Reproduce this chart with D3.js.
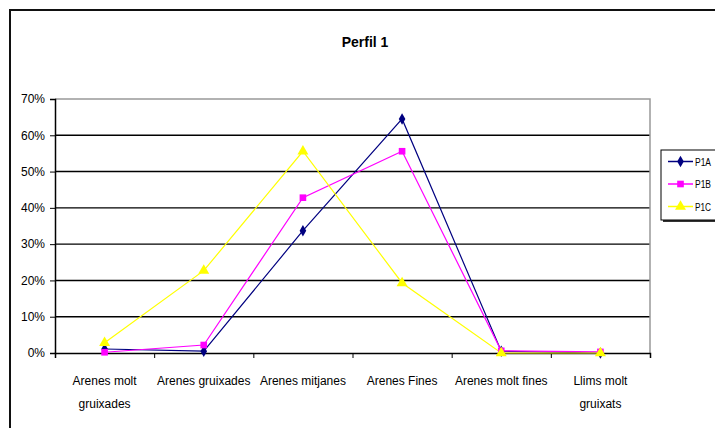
<!DOCTYPE html>
<html lang="en">
<head>
  <meta charset="UTF-8">
  <title>Perfil 1</title>
  <script src="https://d3js.org/d3.v7.min.js"></script>
  <style>
    body { margin: 0; background: #fff; }
    text { font-family: "Liberation Sans", Arial, sans-serif; fill: #000; }
  </style>
</head>
<body>
  <svg id="svg1" width="715" height="428"></svg>
  <script>
    // data (fractions)
    const categories = [["Arenes molt", "gruixades"], ["Arenes gruixades"], ["Arenes mitjanes"],
                        ["Arenes Fines"], ["Arenes molt fines"], ["Llims molt", "gruixats"]];
    const seriesNames = ["P1A", "P1B", "P1C"];
    const p1a = [0.011, 0.005, 0.337, 0.645, 0.005, 0.0];
    const p1b = [0.002, 0.022, 0.428, 0.556, 0.006, 0.003];
    const p1c = [0.028, 0.227, 0.556, 0.193, 0.0, 0.0];
    const yTicks = [0, 0.1, 0.2, 0.3, 0.4, 0.5, 0.6, 0.7];

    const colors = ["#000080", "#ff00ff", "#ffff00"];
    const symbols = [d3.symbolDiamond, d3.symbolSquare, d3.symbolTriangle];
    const symSizes = [38, 44, 52];
    const allSeries = [p1a, p1b, p1c];

    let svg1 = d3.select("svg#svg1");
    let margin = {top: 99, right: 65, bottom: 75, left: 55};
    let chartWidth = 650 - margin.left;
    let chartHeight = 353 - margin.top;

    // outer chart border
    svg1.append("rect")
        .attr("x", 10).attr("y", 10)
        .attr("width", 720).attr("height", 430)
        .attr("fill", "none")
        .attr("stroke", "#111")
        .attr("stroke-width", 2);

    svg1.append("text")
        .attr("x", 365).attr("y", 47)
        .attr("text-anchor", "middle")
        .style("font-size", "14px")
        .style("font-weight", "bold")
        .text("Perfil 1");

    let chartArea = svg1.append("g")
                        .attr("transform", `translate(${margin.left},${margin.top})`);

    const xScale = d3.scaleBand().domain(d3.range(categories.length)).range([0, chartWidth]);
    const yScale = d3.scaleLinear().domain([0, 0.7]).range([chartHeight, 0]);

    // horizontal gridlines
    chartArea.selectAll("line.grid")
        .data(yTicks.slice(1, -1))
        .join("line")
        .attr("class", "grid")
        .attr("x1", 0).attr("x2", chartWidth)
        .attr("y1", d => yScale(d)).attr("y2", d => yScale(d))
        .attr("stroke", "#000")
        .attr("stroke-width", 1.4);

    // plot area border top/right (grey)
    chartArea.append("path")
        .attr("d", `M0,${yScale(0.7)}H${chartWidth}V${chartHeight}`)
        .attr("fill", "none")
        .attr("stroke", "#999")
        .attr("stroke-width", 1.5);

    // y axis
    let leftAxis = d3.axisLeft(yScale)
                     .tickValues(yTicks)
                     .tickSize(5)
                     .tickPadding(5)
                     .tickFormat(d3.format(".0%"));
    let yAxisG = chartArea.append("g").call(leftAxis);
    yAxisG.selectAll("text").style("font-size", "12px").style("font-family", "'Liberation Sans', Arial, sans-serif");

    // x axis, ticks between categories
    let xTickScale = d3.scaleLinear().domain([0, categories.length]).range([0, chartWidth]);
    let bottomAxis = d3.axisBottom(xTickScale)
                       .tickValues(d3.range(categories.length + 1))
                       .tickSize(5)
                       .tickFormat("");
    chartArea.append("g")
        .attr("transform", `translate(0,${chartHeight})`)
        .call(bottomAxis);

    chartArea.selectAll(".domain").attr("stroke", "#000").attr("stroke-width", 1.5);
    chartArea.selectAll(".tick line").attr("stroke", "#000");

    // category labels
    categories.forEach((lines, i) => {
      let t = chartArea.append("text")
          .attr("x", xScale(i) + xScale.bandwidth() / 2)
          .attr("y", chartHeight + 32)
          .attr("text-anchor", "middle")
          .style("font-size", "12px");
      lines.forEach((l, j) => {
        t.append("tspan")
         .attr("x", xScale(i) + xScale.bandwidth() / 2)
         .attr("dy", j === 0 ? 0 : 23)
         .text(l);
      });
    });

    // lines and markers
    const lineGen = d3.line()
                      .x((d, i) => xScale(i) + xScale.bandwidth() / 2)
                      .y(d => yScale(d));

    allSeries.forEach((s, k) => {
      chartArea.append("path")
          .datum(s)
          .attr("fill", "none")
          .attr("stroke", colors[k])
          .attr("stroke-width", 1.2)
          .attr("d", lineGen);
    });
    allSeries.forEach((s, k) => {
      s.forEach((d, i) => {
        chartArea.append("path")
            .attr("d", d3.symbol().type(symbols[k]).size(symSizes[k])())
            .attr("transform", `translate(${xScale(i) + xScale.bandwidth() / 2},${yScale(d)})`)
            .attr("fill", colors[k]);
      });
    });

    // legend (its right part runs off the picture, as in the original)
    let legend = svg1.append("g").attr("transform", "translate(661,150)");
    legend.append("rect")
        .attr("x", 2).attr("y", 2)
        .attr("width", 80).attr("height", 70)
        .attr("fill", "#333");
    legend.append("rect")
        .attr("x", 0).attr("y", 0)
        .attr("width", 80).attr("height", 70)
        .attr("fill", "#fff")
        .attr("stroke", "#000")
        .attr("stroke-width", 1);
    seriesNames.forEach((name, k) => {
      let ly = 11.5 + k * 22.5;
      legend.append("line")
          .attr("x1", 7).attr("x2", 32)
          .attr("y1", ly).attr("y2", ly)
          .attr("stroke", colors[k])
          .attr("stroke-width", 1.5);
      legend.append("path")
          .attr("d", d3.symbol().type(symbols[k]).size(symSizes[k])())
          .attr("transform", `translate(19.5,${ly})`)
          .attr("fill", colors[k]);
      legend.append("text")
          .attr("x", 34).attr("y", ly + 4)
          .attr("textLength", 16)
          .attr("lengthAdjust", "spacingAndGlyphs")
          .style("font-size", "10px")
          .text(name);
    });
  </script>
</body>
</html>
